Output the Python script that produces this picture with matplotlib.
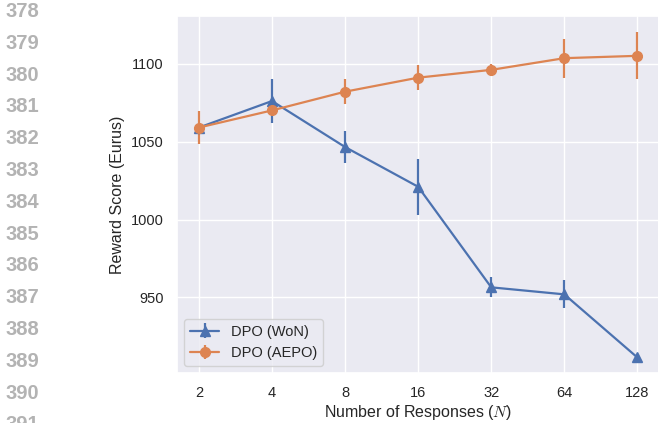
import numpy as np
import matplotlib
matplotlib.use("Agg")
import matplotlib.pyplot as plt
import seaborn as sns

# Reward score vs. number of sampled responses
n_responses = [2, 4, 8, 16, 32, 64, 128]
won_mean = [1059, 1076, 1046.5, 1021, 956.5, 952, 911.5]
won_err = [2, 14, 10, 18, 6.5, 9, 0]
aepo_mean = [1059, 1070, 1082, 1091, 1096, 1103.5, 1105]
aepo_err = [10.5, 3, 8, 8, 4, 12.5, 15]
line_numbers = list(range(378, 392))

sns.set_theme(style="darkgrid")
plt.rcParams['font.family'] = ['Liberation Sans', 'DejaVu Sans']
plt.rcParams['mathtext.fontset'] = 'cm'

fig = plt.figure(figsize=(6.58, 4.23), dpi=100)
ax = fig.add_axes([0.269, 0.118, 0.733, 0.844])

xpos = np.log2(n_responses)
blue, orange = sns.color_palette("deep")[:2]

ax.errorbar(xpos, won_mean, yerr=won_err, color=blue, marker='^', markersize=7,
            lw=1.6, elinewidth=1.6, label='DPO (WoN)')
ax.errorbar(xpos, aepo_mean, yerr=aepo_err, color=orange, marker='o', markersize=7,
            lw=1.6, elinewidth=1.6, label='DPO (AEPO)')

ax.set_xticks(xpos)
ax.set_xticklabels([str(n) for n in n_responses])
ax.set_xlim(0.7, 7.3)
ax.set_ylim(901.5, 1130.5)
ax.set_yticks([950, 1000, 1050, 1100])
ax.tick_params(labelsize=10.5, colors='#262626')
ax.set_xlabel('Number of Responses ($N$)', fontsize=11.5, labelpad=2)
ax.set_ylabel('Reward Score (Eurus)', fontsize=11.5)
ax.legend(loc='lower left', fontsize=10.5)

# line numbers down the left margin
for i, num in enumerate(line_numbers):
    y = 1 - (11.5 + 31.8 * i) / 423
    fig.text(0.008, y, str(num), fontsize=14.5, fontweight='bold',
             color='#b3b3b3', va='center', ha='left')

fig.savefig('out.png', dpi=100)
